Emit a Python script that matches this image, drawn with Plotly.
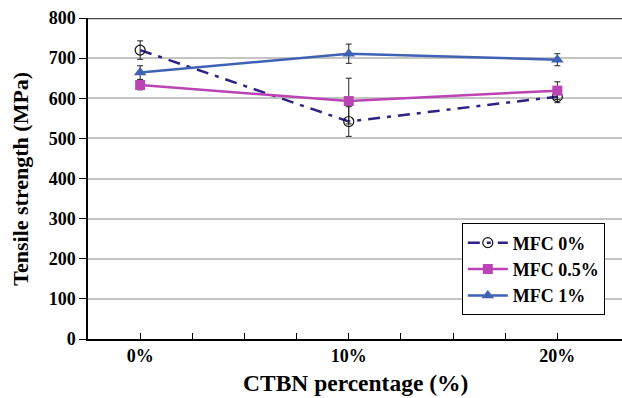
import plotly.graph_objects as go

categories = [0, 10, 20]
tick_labels = ["0%", "10%", "20%"]

mfc0 = [720, 542, 604]
mfc0_err = [23, 37, 15]
mfc05 = [633, 593, 619]
mfc05_err = [12, 57, 22]
mfc1 = [664, 711, 696]
mfc1_err = [17, 24, 15]

FONT = "Liberation Serif, Times New Roman, serif"

fig = go.Figure()

def err(arr):
    return dict(type="data", array=arr, visible=True, color="#222222", thickness=1, width=3)

fig.add_trace(go.Scatter(
    x=categories, y=mfc0, name="MFC 0%", mode="lines+markers",
    line=dict(color="#2E2385", width=2.5, dash="12px,7px,4px,7px"),
    marker=dict(symbol="circle-open", size=10, color="#111111", line=dict(width=1.2)),
    error_y=err(mfc0_err)))
fig.add_trace(go.Scatter(
    x=categories, y=mfc05, name="MFC 0.5%", mode="lines+markers",
    line=dict(color="#BB44B5", width=2.5),
    marker=dict(symbol="square", size=10, color="#BB44B5"),
    error_y=err(mfc05_err)))
fig.add_trace(go.Scatter(
    x=categories, y=mfc1, name="MFC 1%", mode="lines+markers",
    line=dict(color="#3F62B5", width=2.5),
    marker=dict(symbol="triangle-up", size=11, color="#3F62B5"),
    error_y=err(mfc1_err)))

xt = [i * 2.5 for i in range(0, 9)]
xtt = [(tick_labels[categories.index(v)] if v in categories else "") for v in xt]

fig.update_layout(
    width=622, height=398,
    margin=dict(l=88, r=0, t=18, b=59, autoexpand=False),
    paper_bgcolor="white", plot_bgcolor="white",
    font=dict(family=FONT, color="black"),
    showlegend=True,
    legend=dict(x=0.700, y=0.36, xanchor="left", yanchor="top",
                bordercolor="black", borderwidth=1, bgcolor="white",
                font=dict(family=FONT, size=18, color="black", weight="bold"),
                tracegroupgap=0, itemwidth=40),
    xaxis=dict(range=[-2.5, 23.1], tickvals=xt, ticktext=xtt, automargin=False,
               ticks="inside", ticklen=6, tickcolor="black",
               showline=True, linecolor="black", linewidth=1.5,
               showgrid=False, zeroline=False,
               tickfont=dict(family=FONT, size=18, color="black", weight="bold")),
    yaxis=dict(range=[0, 800], dtick=100, ticks="outside", ticklen=7, tickcolor="black",
               automargin=False,
               showline=True, linecolor="black", linewidth=1.5,
               showgrid=True, gridcolor="#C4C4C4", gridwidth=1.5, zeroline=False,
               tickfont=dict(family=FONT, size=18, color="black", weight="bold")),
    shapes=[dict(type="line", xref="paper", yref="y", x0=0, x1=1, y0=800, y1=800,
                 layer="above", line=dict(color="#444444", width=2.5))],
    annotations=[
        dict(text="CTBN percentage (%)", xref="paper", yref="paper", x=0.5, y=-0.137,
             xanchor="center", yanchor="middle", showarrow=False,
             font=dict(family=FONT, size=23.5, color="black", weight="bold")),
        dict(text="Tensile strength (MPa)", xref="paper", yref="paper", x=-0.127, y=0.5,
             xanchor="center", yanchor="middle", showarrow=False, textangle=-90,
             font=dict(family=FONT, size=22, color="black", weight="bold")),
    ],
)

fig.write_html("out.html", config={"displayModeBar": False},
               post_script="document.body.style.margin='0';document.body.style.overflow='hidden';")
